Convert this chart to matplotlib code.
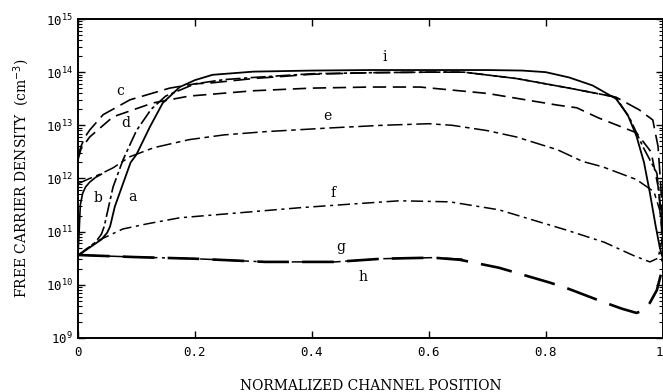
import numpy as np
import matplotlib
matplotlib.use('Agg')
import matplotlib.pyplot as plt
from matplotlib.ticker import FixedLocator, LogLocator, NullFormatter

# curve data: x position, log10 of carrier density
i_x = [0, 0.02, 0.04, 0.05, 0.055, 0.063, 0.075, 0.09, 0.1, 0.123, 0.145, 0.174, 0.2, 0.23,
       0.3, 0.4, 0.5, 0.6, 0.7, 0.76, 0.8, 0.84, 0.88, 0.92, 0.94, 0.955, 0.968, 0.978, 0.988, 0.995, 1.0]
i_y = [10.55, 10.7, 10.85, 10.98, 11.1, 11.47, 11.84, 12.3, 12.45, 12.97, 13.42, 13.72, 13.85, 13.95,
       14.01, 14.03, 14.04, 14.04, 14.04, 14.03, 14.0, 13.9, 13.75, 13.5, 13.2, 12.8, 12.3, 11.73, 11.1, 10.7, 10.5]

a_x = [0, 0.03, 0.04, 0.045, 0.05, 0.06, 0.077, 0.1, 0.125, 0.15, 0.2, 0.25, 0.3, 0.4, 0.5, 0.6,
       0.66, 0.75, 0.84, 0.92, 0.945, 0.966, 0.99, 0.997, 1.0]
a_y = [10.55, 10.8, 10.95, 11.1, 11.35, 11.84, 12.35, 12.9, 13.3, 13.55, 13.78, 13.86, 13.9, 13.97, 13.99, 14.0,
       14.0, 13.88, 13.7, 13.53, 13.1, 12.6, 12.1, 11.3, 10.6]

b_x = [0, 0.002, 0.004, 0.008, 0.013, 0.02, 0.03, 0.04]
b_y = [10.55, 11.0, 11.5, 11.72, 11.84, 11.93, 12.02, 12.08]

c_x = [0, 0.005, 0.012, 0.02, 0.043, 0.089, 0.157, 0.2, 0.23, 0.3, 0.4, 0.5, 0.6, 0.66, 0.75, 0.84,
       0.92, 0.96, 0.983, 0.992, 0.997, 1.0]
c_y = [12.4, 12.6, 12.78, 12.91, 13.2, 13.48, 13.7, 13.78, 13.8, 13.88, 13.96, 13.99, 14.0, 14.0, 13.88, 13.7,
       13.53, 13.29, 13.1, 12.6, 11.8, 11.0]

d_x = [0, 0.005, 0.02, 0.06, 0.128, 0.19, 0.3, 0.4, 0.5, 0.585, 0.7, 0.82, 0.853, 0.89, 0.955, 0.98, 0.993, 1.0]
d_y = [12.35, 12.55, 12.78, 13.16, 13.42, 13.55, 13.65, 13.7, 13.72, 13.72, 13.6, 13.38, 13.33, 13.14, 12.86,
       12.5, 11.8, 11.0]

e_x = [0, 0.02, 0.038, 0.06, 0.089, 0.13, 0.19, 0.25, 0.32, 0.43, 0.52, 0.6, 0.64, 0.7, 0.75, 0.82, 0.863,
       0.897, 0.955, 0.985, 0.995, 1.0]
e_y = [11.9, 12.0, 12.08, 12.2, 12.41, 12.58, 12.73, 12.82, 12.88, 12.95, 13.0, 13.03, 13.0, 12.9, 12.78, 12.54,
       12.32, 12.22, 11.98, 11.75, 11.4, 10.9]

f_x = [0, 0.02, 0.038, 0.077, 0.12, 0.174, 0.25, 0.38, 0.47, 0.55, 0.636, 0.72, 0.835, 0.9, 0.95, 0.978,
       0.992, 1.0]
f_y = [10.55, 10.72, 10.85, 11.05, 11.15, 11.26, 11.33, 11.45, 11.52, 11.58, 11.56, 11.41, 11.03, 10.8, 10.55,
       10.43, 10.5, 10.9]

g_x = [0, 0.1, 0.2, 0.32, 0.44, 0.52, 0.607, 0.66]
g_y = [10.56, 10.52, 10.49, 10.43, 10.43, 10.49, 10.51, 10.48]

h_x = [0, 0.1, 0.2, 0.32, 0.44, 0.52, 0.607, 0.653, 0.72, 0.807, 0.835, 0.897, 0.93, 0.955, 0.968, 0.978,
       0.99, 0.997, 1.0]
h_y = [10.56, 10.52, 10.49, 10.43, 10.43, 10.49, 10.51, 10.47, 10.32, 10.04, 9.94, 9.68, 9.55, 9.47, 9.52,
       9.66, 9.9, 10.2, 10.5]

curve_names = ['a', 'b', 'c', 'd', 'e', 'f', 'g', 'h', 'i']
label_x = [0.094, 0.034, 0.072, 0.082, 0.427, 0.436, 0.45, 0.487, 0.525]
label_y = [11.65, 11.64, 13.65, 13.05, 13.18, 11.73, 10.71, 10.15, 14.29]

xticks = [0, 0.2, 0.4, 0.6, 0.8, 1.0]
xtick_labels = ['0', '0.2', '0.4', '0.6', '0.8', '1']
yexps = [9, 10, 11, 12, 13, 14, 15]

fig = plt.figure(figsize=(6.63, 3.92), dpi=100)
ax = fig.add_axes([0.1176, 0.138, 0.882, 0.8135])

styles = {
    'i': dict(ls='-', lw=1.3),
    'a': dict(ls=(0, (9, 2, 2, 2)), lw=1.2),
    'b': dict(ls='-', lw=1.2),
    'c': dict(ls=(0, (10, 4)), lw=1.2),
    'd': dict(ls=(0, (8, 4)), lw=1.2),
    'e': dict(ls=(0, (10, 3, 3, 3)), lw=1.1),
    'f': dict(ls=(0, (8, 3, 2, 3)), lw=1.1),
    'g': dict(ls=(0, (12, 3, 2, 3)), lw=1.1),
    'h': dict(ls=(0, (12, 5)), lw=1.9),
}
data = {'a': (a_x, a_y), 'b': (b_x, b_y), 'c': (c_x, c_y), 'd': (d_x, d_y), 'e': (e_x, e_y),
        'f': (f_x, f_y), 'g': (g_x, g_y), 'h': (h_x, h_y), 'i': (i_x, i_y)}

for name in curve_names:
    xs, ys = data[name]
    ax.plot(xs, 10 ** np.array(ys), color='black', **styles[name])

for name, lx, ly in zip(curve_names, label_x, label_y):
    ax.text(lx, 10 ** ly, name, family='DejaVu Serif', fontsize=10, ha='center', va='center')

ax.set_yscale('log')
ax.set_xlim(0, 1)
ax.set_ylim(1e9, 1e15)

ax.xaxis.set_major_locator(FixedLocator(xticks))
ax.set_xticklabels(xtick_labels, family='DejaVu Sans Mono', fontsize=9)
# last label would be cut by the figure edge, keep it inside
ax.get_xticklabels()[-1].set_ha('right')
ax.yaxis.set_major_locator(FixedLocator([10.0 ** e for e in yexps]))
ax.set_yticklabels([r'$\mathtt{10^{%d}}$' % e for e in yexps], fontsize=9)
ax.yaxis.set_minor_locator(LogLocator(base=10, subs=np.arange(2, 10), numticks=20))
ax.yaxis.set_minor_formatter(NullFormatter())

ax.tick_params(which='both', direction='in', top=True, right=True)
ax.tick_params(which='major', length=5, width=1)
ax.tick_params(which='minor', length=3, width=0.8)
ax.tick_params(axis='x', pad=6)
for sp in ax.spines.values():
    sp.set_linewidth(1.4)

ax.set_ylabel(r'FREE CARRIER DENSITY  (cm$^{-3}$)', family='DejaVu Serif', fontsize=10, labelpad=10)
ax.set_xlabel('NORMALIZED CHANNEL POSITION', family='DejaVu Serif', fontsize=10, labelpad=14)

fig.savefig('out.png', dpi=100)
